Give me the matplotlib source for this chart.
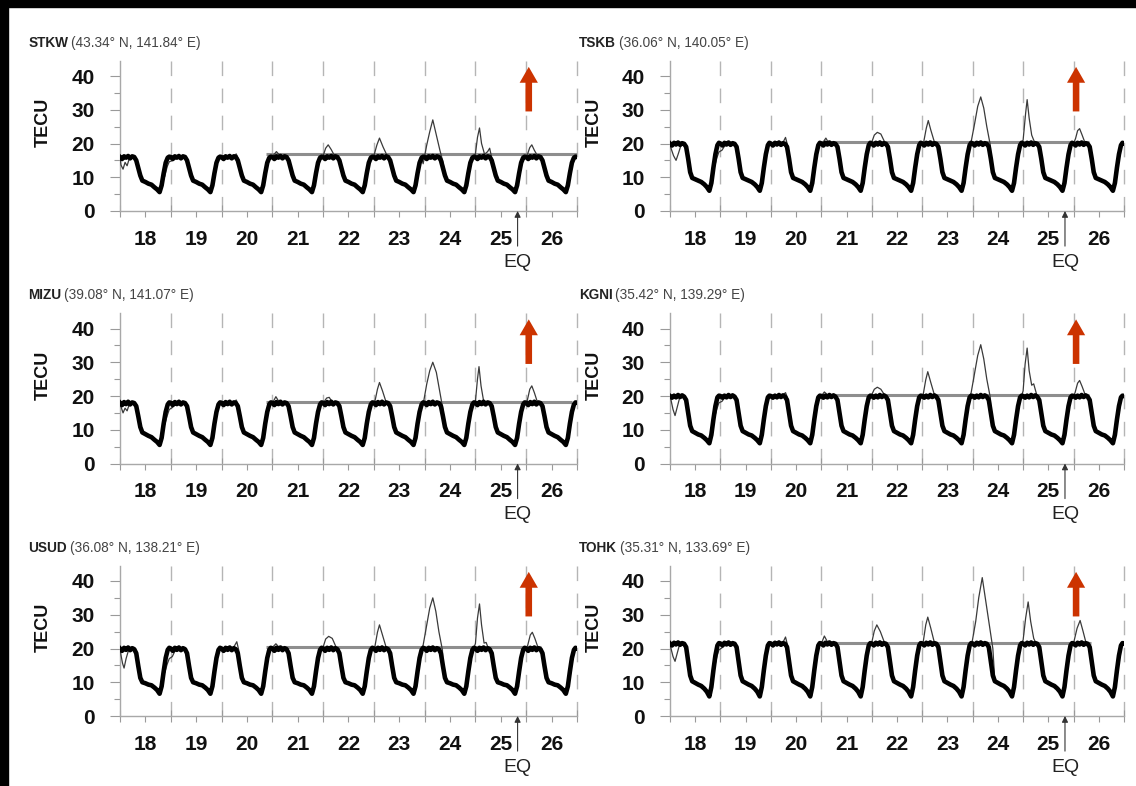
import matplotlib
matplotlib.use("Agg")
import matplotlib.pyplot as plt
from matplotlib.patches import Rectangle

plt.rcParams['font.family'] = ['Liberation Sans', 'DejaVu Sans']

# days shown on the x axis and the sample points within one day (fraction of the day)
days = [18, 19, 20, 21, 22, 23, 24, 25, 26]
day_frac = [0.00, 0.04, 0.08, 0.12, 0.16, 0.20, 0.24, 0.28, 0.32, 0.36, 0.40, 0.44,
            0.50, 0.56, 0.62, 0.68, 0.73, 0.78, 0.82, 0.86, 0.90, 0.94, 0.97]
eq_time = 25.83
red_arrow_x = 26.05
red_arrow_y = (29.5, 42.7)

names = ['STKW', 'TSKB', 'MIZU', 'KGNI', 'USUD', 'TOHK']
coords = ['(43.34° N, 141.84° E)', '(36.06° N, 140.05° E)', '(39.08° N, 141.07° E)',
          '(35.42° N, 139.29° E)', '(36.08° N, 138.21° E)', '(35.31° N, 133.69° E)']

# thick curve: daily reference variation (TECU) at day_frac
stkw_ref = [16.0, 15.4, 16.2, 15.8, 16.3, 15.6, 16.2, 16.0, 15.0, 12.8, 10.5, 9.0,
            8.6, 8.1, 7.8, 7.0, 6.4, 5.6, 7.6, 11.2, 14.3, 15.8, 16.1]
tskb_ref = [20.0, 19.4, 20.2, 19.7, 20.3, 19.6, 20.1, 19.9, 19.0, 15.5, 11.5, 9.8,
            9.4, 9.0, 8.6, 7.9, 7.1, 6.0, 8.3, 12.8, 16.8, 19.5, 20.2]
mizu_ref = [18.0, 17.3, 18.2, 17.6, 18.3, 17.5, 18.1, 17.9, 17.0, 14.0, 10.8, 9.2,
            8.7, 8.2, 7.8, 7.0, 6.4, 5.5, 7.6, 11.8, 15.3, 17.5, 18.1]
kgni_ref = [20.0, 19.5, 20.1, 19.6, 20.3, 19.7, 20.2, 19.8, 18.8, 15.0, 11.2, 9.6,
            9.1, 8.6, 8.3, 7.6, 6.9, 6.0, 8.5, 13.0, 17.0, 19.6, 20.1]
usud_ref = [20.0, 19.3, 20.2, 19.6, 20.3, 19.5, 20.1, 19.8, 18.6, 14.8, 11.3, 10.0,
            9.7, 9.3, 9.1, 8.4, 7.7, 6.6, 8.8, 13.2, 17.2, 19.6, 20.2]
tohk_ref = [21.5, 20.9, 21.7, 21.2, 21.8, 21.1, 21.6, 21.4, 20.4, 16.2, 12.0, 10.3,
            9.8, 9.3, 8.9, 8.1, 7.2, 5.8, 8.6, 13.5, 17.9, 20.9, 21.6]

# thin curve: where it leaves the thick one, (day, TECU) points
stkw_dev = [
    [(18.02, 13.6), (18.06, 12.4), (18.10, 14.4), (18.14, 13.4), (18.18, 15.4)],
    [(18.88, 10.2), (18.93, 13.2), (18.97, 14.6), (19.03, 14.9), (19.08, 16.0)],
    [(20.24, 16.4), (20.29, 16.9), (20.33, 15.4)],
    [(21.02, 16.5), (21.08, 17.6), (21.14, 16.6)],
    [(22.00, 16.3), (22.05, 18.6), (22.10, 19.6), (22.16, 18.2), (22.22, 16.5)],
    [(23.00, 16.4), (23.06, 19.6), (23.11, 21.6), (23.18, 19.0), (23.26, 16.4)],
    [(23.97, 14.0), (24.04, 19.5), (24.10, 23.5), (24.16, 27.0), (24.23, 22.5),
     (24.30, 18.0), (24.36, 14.5)],
    [(25.00, 17.0), (25.04, 21.8), (25.08, 24.6), (25.12, 20.0), (25.18, 16.8),
     (25.24, 17.6), (25.28, 18.6), (25.32, 15.8)],
    [(26.02, 16.6), (26.07, 18.8), (26.11, 19.6), (26.16, 18.0), (26.22, 16.4)],
]
tskb_dev = [
    [(18.02, 18.6), (18.07, 16.4), (18.12, 15.0), (18.17, 17.2), (18.22, 19.6)],
    [(18.89, 13.5), (18.93, 15.8), (18.97, 17.5), (19.03, 18.0), (19.08, 19.2)],
    [(20.24, 20.3), (20.29, 21.8), (20.33, 19.5)],
    [(21.04, 20.5), (21.09, 21.6), (21.14, 20.3)],
    [(22.00, 20.4), (22.05, 22.5), (22.11, 23.3), (22.18, 22.8), (22.25, 20.6)],
    [(23.03, 20.5), (23.08, 24.5), (23.12, 26.8), (23.17, 24.0), (23.24, 20.5)],
    [(23.97, 20.5), (24.04, 26.0), (24.10, 31.0), (24.16, 33.8), (24.22, 30.5),
     (24.28, 25.0), (24.35, 19.5)],
    [(25.00, 21.0), (25.05, 29.0), (25.08, 33.0), (25.12, 27.5), (25.17, 22.5),
     (25.21, 21.0)],
    [(26.04, 21.5), (26.08, 23.8), (26.12, 24.4), (26.17, 22.5), (26.22, 20.5)],
]
mizu_dev = [
    [(18.02, 16.8), (18.06, 15.0), (18.10, 16.4), (18.14, 15.6), (18.18, 17.4)],
    [(18.88, 11.5), (18.93, 14.2), (18.97, 16.0), (19.03, 16.6), (19.08, 17.8)],
    [(20.24, 18.3), (20.29, 18.8), (20.33, 17.2)],
    [(21.02, 18.4), (21.07, 19.8), (21.13, 18.3)],
    [(22.02, 18.3), (22.07, 19.4), (22.12, 19.6), (22.18, 18.2)],
    [(23.02, 18.4), (23.07, 22.0), (23.11, 24.0), (23.17, 21.5), (23.24, 18.2)],
    [(23.97, 17.5), (24.04, 23.5), (24.10, 27.5), (24.16, 30.0), (24.23, 27.0),
     (24.30, 21.0), (24.36, 16.0)],
    [(25.00, 18.5), (25.04, 25.0), (25.07, 28.7), (25.11, 23.0), (25.16, 18.6)],
    [(26.02, 18.6), (26.07, 22.0), (26.11, 23.0), (26.16, 21.0), (26.22, 18.2)],
]
kgni_dev = [
    [(18.02, 18.8), (18.06, 16.0), (18.10, 14.2), (18.14, 16.5), (18.19, 19.4)],
    [(18.89, 14.0), (18.93, 16.2), (18.97, 18.0), (19.03, 18.4), (19.08, 19.4)],
    [(20.24, 20.3), (20.29, 21.0), (20.33, 19.4)],
    [(21.02, 20.4), (21.06, 21.2), (21.12, 20.4)],
    [(22.00, 20.4), (22.05, 22.0), (22.11, 22.6), (22.18, 22.0), (22.25, 20.4)],
    [(23.02, 20.5), (23.07, 24.8), (23.11, 27.2), (23.17, 24.0), (23.24, 20.4)],
    [(23.97, 21.0), (24.04, 27.0), (24.10, 32.0), (24.16, 35.2), (24.22, 31.0),
     (24.28, 25.0), (24.35, 19.5)],
    [(25.00, 21.5), (25.04, 29.5), (25.08, 34.2), (25.12, 27.5), (25.17, 23.2),
     (25.21, 23.6), (25.26, 20.8)],
    [(26.03, 21.0), (26.08, 23.8), (26.12, 24.6), (26.17, 22.8), (26.23, 20.4)],
]
usud_dev = [
    [(18.02, 18.0), (18.05, 15.6), (18.08, 14.2), (18.12, 17.0), (18.17, 19.6)],
    [(18.88, 12.8), (18.93, 15.4), (18.97, 17.0), (19.03, 17.6), (19.08, 19.2)],
    [(20.24, 20.4), (20.30, 22.0), (20.34, 19.4)],
    [(21.02, 20.6), (21.07, 21.4), (21.13, 20.4)],
    [(22.00, 20.4), (22.05, 22.8), (22.11, 23.6), (22.18, 23.0), (22.25, 20.6)],
    [(23.02, 20.6), (23.07, 24.8), (23.11, 27.0), (23.17, 24.0), (23.24, 20.4)],
    [(23.97, 21.0), (24.04, 27.0), (24.10, 32.0), (24.16, 35.0), (24.22, 31.0),
     (24.28, 25.0), (24.35, 19.5)],
    [(25.00, 21.5), (25.04, 29.0), (25.08, 33.2), (25.12, 27.0), (25.17, 21.6),
     (25.21, 21.8), (25.25, 20.2)],
    [(26.03, 21.0), (26.08, 24.0), (26.12, 24.8), (26.17, 23.0), (26.23, 20.4)],
]
tohk_dev = [
    [(18.02, 20.0), (18.06, 17.6), (18.10, 16.2), (18.14, 18.4), (18.19, 21.2)],
    [(18.89, 15.0), (18.93, 17.6), (18.97, 19.6), (19.03, 20.2), (19.08, 21.0)],
    [(20.24, 21.8), (20.29, 23.4), (20.33, 21.0)],
    [(21.02, 22.2), (21.06, 23.7), (21.12, 22.0)],
    [(22.00, 21.8), (22.05, 25.2), (22.10, 27.0), (22.17, 25.0), (22.25, 21.8)],
    [(23.02, 22.0), (23.07, 27.0), (23.11, 29.3), (23.17, 26.0), (23.24, 21.8)],
    [(23.99, 22.0), (24.06, 28.0), (24.12, 35.0), (24.19, 41.0), (24.26, 34.0),
     (24.33, 27.0), (24.40, 20.0)],
    [(25.00, 22.5), (25.05, 29.0), (25.10, 33.8), (25.15, 28.0), (25.21, 23.0),
     (25.27, 21.0)],
    [(26.01, 22.2), (26.07, 26.0), (26.13, 28.3), (26.19, 25.0), (26.25, 21.5)],
]

# grey horizontal level: (TECU, start day, end day)
stkw_level = (16.9, 20.88, 27.0)
tskb_level = (20.3, 21.0, 26.3)
mizu_level = (18.3, 20.88, 26.9)
kgni_level = (20.2, 21.0, 26.3)
usud_level = (20.4, 20.88, 26.3)
tohk_level = (21.7, 21.0, 26.35)

refs = [stkw_ref, tskb_ref, mizu_ref, kgni_ref, usud_ref, tohk_ref]
devs = [stkw_dev, tskb_dev, mizu_dev, kgni_dev, usud_dev, tohk_dev]
levels = [stkw_level, tskb_level, mizu_level, kgni_level, usud_level, tohk_level]

W, H = 1136, 786
fig = plt.figure(figsize=(W / 100, H / 100), dpi=100)
fig.patch.set_facecolor('white')

col_px = [(120, 577), (670, 1124)]
row_zero_px = [211, 463.5, 716]
ytop = 44.5
px_per_tecu = 3.375

for i in range(6):
    r, c = divmod(i, 2)
    x0, x1 = col_px[c]
    y0 = row_zero_px[r]
    hpx = ytop * px_per_tecu
    ax = fig.add_axes([x0 / W, (H - y0) / H, (x1 - x0) / W, hpx / H])

    # thick curve
    tx = [d + f for d in days for f in day_frac] + [27.0]
    ty = refs[i] * len(days) + [refs[i][0]]

    # thin curve = thick curve with the deviating pieces swapped in
    pts = list(zip(tx, ty))
    for seg in devs[i]:
        lo, hi = seg[0][0], seg[-1][0]
        pts = [p for p in pts if not (lo <= p[0] <= hi)] + list(seg)
    pts.sort()
    nx = [p[0] for p in pts]
    ny = [p[1] for p in pts]

    for xv in range(19, 28):
        ax.plot([xv, xv], [ytop, 0], color='#b5b5b5', lw=1.0, dashes=(10.5, 9),
                zorder=1, clip_on=False)

    lev, ls, le = levels[i]
    ax.plot([ls, le], [lev, lev], color='#8e8e8e', lw=2.2, zorder=2,
            solid_capstyle='butt')
    ax.plot(nx, ny, color='#3a3a3a', lw=0.9, zorder=3)
    ax.plot(tx, ty, color='black', lw=3.3, zorder=4, solid_joinstyle='round')

    ax.set_xlim(18, 27)
    ax.set_ylim(0, ytop)
    ax.set_xticks(range(18, 28))
    ax.set_xticklabels([])
    ax.set_xticks([d + 0.5 for d in days], minor=True)
    ax.set_xticklabels([str(d) for d in days], minor=True, fontweight='bold',
                       fontsize=15)
    ax.set_yticks([0, 10, 20, 30, 40])
    ax.set_yticklabels(['0', '10', '20', '30', '40'], fontweight='bold', fontsize=15)
    ax.set_yticks([5, 15, 25, 35], minor=True)
    ax.tick_params(axis='x', which='major', direction='inout', length=9, width=0.8,
                   color='#9a9a9a')
    ax.tick_params(axis='x', which='minor', direction='out', length=4.5, width=0.8,
                   color='#9a9a9a', pad=9, labelcolor='#111111')
    ax.tick_params(axis='y', which='major', direction='out', length=7, width=0.8,
                   color='#9a9a9a', pad=11, labelcolor='#111111')
    ax.tick_params(axis='y', which='minor', direction='out', length=4, width=0.8,
                   color='#9a9a9a')
    for s in ['top', 'right']:
        ax.spines[s].set_visible(False)
    for s in ['left', 'bottom']:
        ax.spines[s].set_color('#a8a8a8')
        ax.spines[s].set_linewidth(1.0)

    ax.set_ylabel('TECU', fontsize=13, fontweight='bold', color='#111111')
    ax.yaxis.set_label_coords(-0.149, 0.59)

    t = ax.text(-0.201, 1.12, names[i], transform=ax.transAxes, fontsize=9.8,
                fontweight='bold', va='center', ha='left', color='#222222')
    ax.annotate(coords[i], xy=(1, 0.5), xycoords=t, xytext=(2, 0),
                textcoords='offset points', va='center', ha='left', fontsize=9.8,
                color='#444444')

    # earthquake marker
    ax.annotate('', xy=(eq_time, 0), xytext=(eq_time, -10.4),
                arrowprops=dict(arrowstyle='-|>', color='#333333', lw=0.8,
                                mutation_scale=9, shrinkA=0, shrinkB=0),
                annotation_clip=False)
    ax.text(eq_time, -15.2, 'EQ', ha='center', va='center', fontsize=14,
            color='#222222', clip_on=False)

    # red arrow
    ax.arrow(red_arrow_x, red_arrow_y[0], 0, red_arrow_y[1] - red_arrow_y[0],
             width=0.13, head_width=0.36, head_length=4.7,
             length_includes_head=True, color='#cc3300', lw=0, zorder=5,
             clip_on=False)

# black frame strips at top and left
fig.add_artist(Rectangle((0, 0), 8 / W, 1, transform=fig.transFigure,
                         color='black', zorder=10))
fig.add_artist(Rectangle((0, 1 - 7 / H), 1, 7 / H, transform=fig.transFigure,
                         color='black', zorder=10))

fig.savefig('out.png', dpi=100)
